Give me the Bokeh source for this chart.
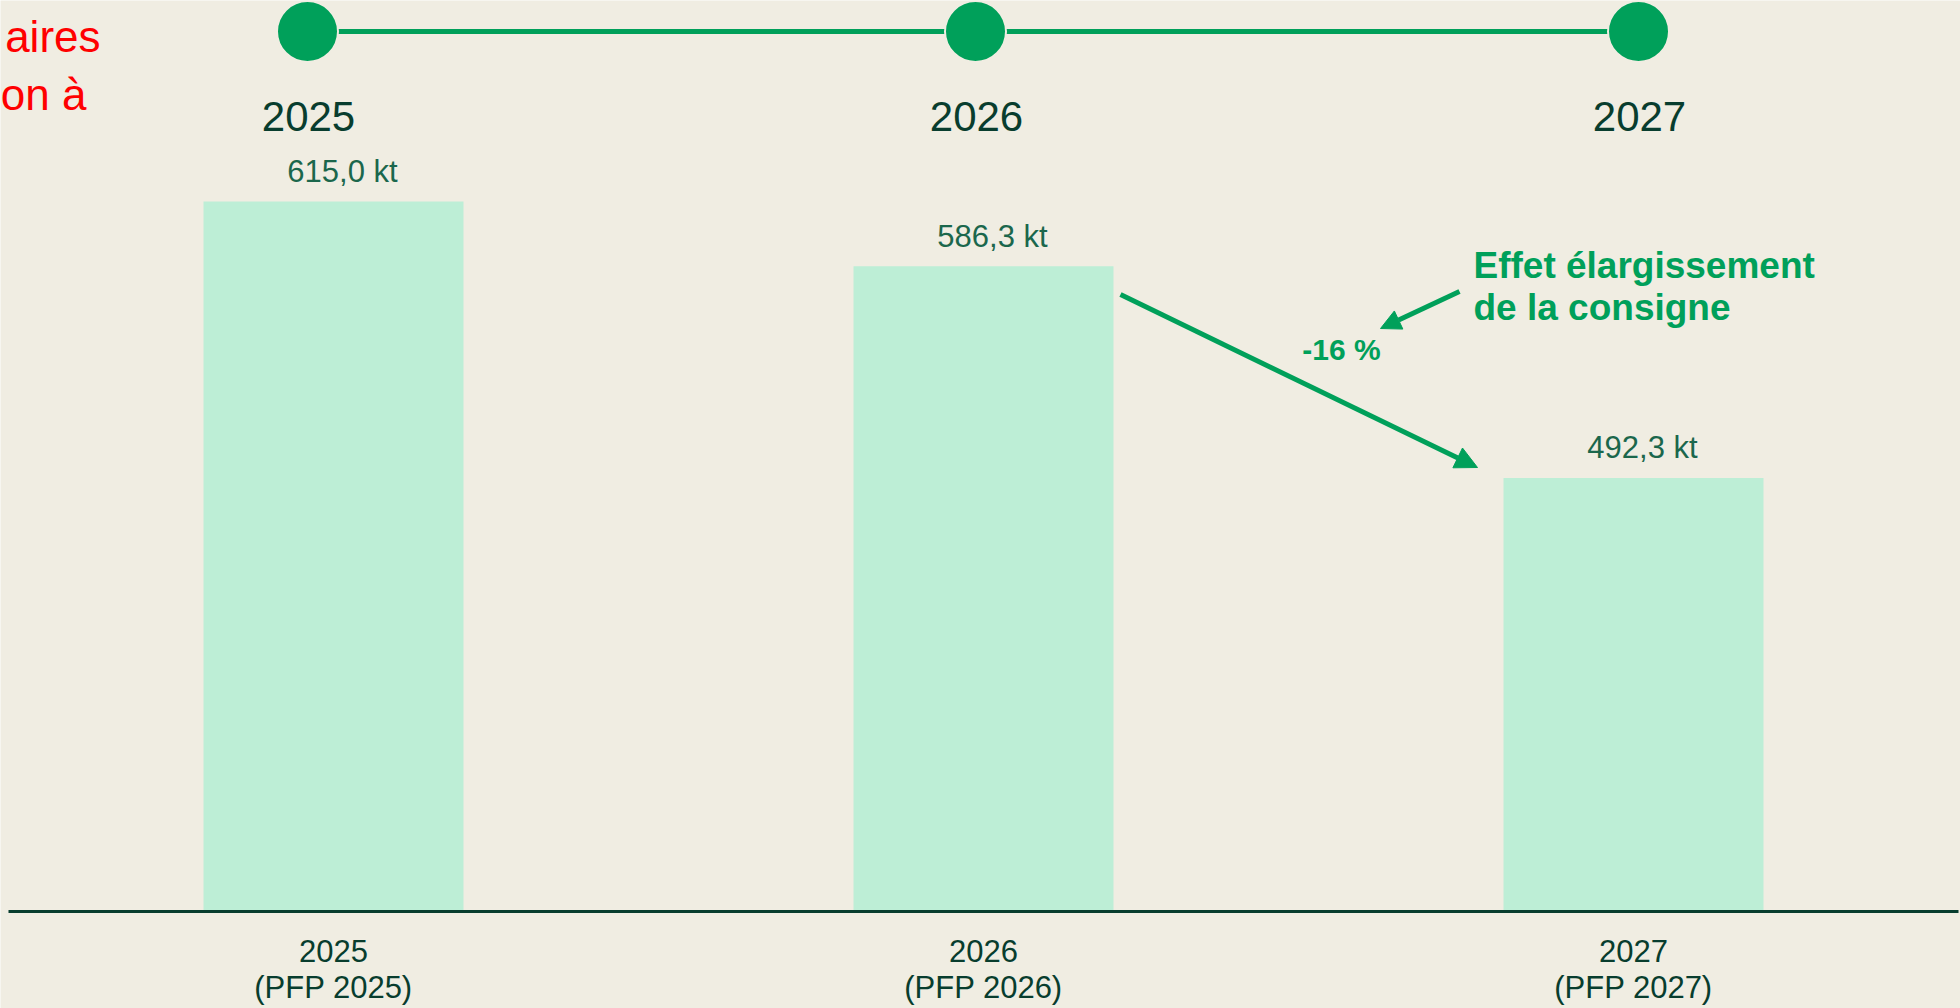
from bokeh.plotting import figure
from bokeh.models import Range1d, Arrow, NormalHead
from bokeh.core.properties import value
from bokeh.embed import file_html
from bokeh.resources import INLINE

# ---------------- data ----------------
years = ["2025", "2026", "2027"]
sublabels = ["(PFP 2025)", "(PFP 2026)", "(PFP 2027)"]
values = [615.0, 586.3, 492.3]
value_labels = ["615,0 kt", "586,3 kt", "492,3 kt"]
change_label = "-16 %"
note_lines = ["Effet élargissement", "de la consigne"]
cut_text = ["aires", "on à"]

# ---------------- layout / style ----------------
W, H = 1960, 1008
BG = "#f0ede2"
BAR = "#bdeed6"
GREEN = "#00a05a"
DARK = "#083d2e"
LABEL = "#1b674c"
FONT = "Liberation Sans"

Y_BASE = 300.0          # value where the bars start
BASE_PX = 911           # baseline, pixels from top
PX_PER_UNIT = 2.254     # pixels per kt
BAR_C0_PX = 333         # first bar centre, pixels
BAR_STEP_PX = 650       # distance between bars, pixels
BAR_W = 0.4


def sh(fs):
    # correction so that the text baseline lands where intended
    return 0.36 * fs


idx = list(range(len(years)))

x0 = -BAR_C0_PX / BAR_STEP_PX
x1 = (W - BAR_C0_PX) / BAR_STEP_PX
y0 = Y_BASE - (H - BASE_PX) / PX_PER_UNIT
y1 = Y_BASE + BASE_PX / PX_PER_UNIT

p = figure(width=W, height=H, x_range=Range1d(x0, x1), y_range=Range1d(y0, y1),
           x_axis_location=None, y_axis_location=None, toolbar_location=None,
           output_backend="svg", min_border=0)
p.extra_x_ranges = {"px": Range1d(0, W)}
p.extra_y_ranges = {"px": Range1d(H, 0)}
p.background_fill_color = BG
p.border_fill_color = BG
p.outline_line_color = None
p.grid.visible = False

# bars
p.vbar(x=idx, top=values, bottom=Y_BASE, width=BAR_W, fill_color=BAR, line_color=None)

# baseline
p.segment(x0=[8], x1=[1958], y0=[Y_BASE], y1=[Y_BASE], x_range_name="px",
          line_color=DARK, line_width=3)

# value labels
p.text(x=idx, y=values, text=value_labels, x_offset=9, y_offset=-19 - sh(31),
       text_align="center", text_baseline="alphabetic",
       text_font=value(FONT), text_font_size="31px", text_color=LABEL)

# category labels
p.text(x=idx, y=[Y_BASE] * 3, text=years, y_offset=51 - sh(31),
       text_align="center", text_baseline="alphabetic",
       text_font=value(FONT), text_font_size="31px", text_color=DARK)
p.text(x=idx, y=[Y_BASE] * 3, text=sublabels, y_offset=87 - sh(31),
       text_align="center", text_baseline="alphabetic",
       text_font=value(FONT), text_font_size="31px", text_color=DARK)

# timeline on top
tl_x = [307, 975, 1638]
tl_y = 31
p.line(x=tl_x, y=[tl_y] * 3, x_range_name="px", y_range_name="px",
       line_color=GREEN, line_width=5)
p.scatter(x=tl_x, y=[tl_y] * 3, x_range_name="px", y_range_name="px",
          size=61, fill_color=GREEN, line_color=BG, line_width=2)
p.text(x=[v + 1 for v in tl_x], y=[131 - sh(42)] * 3, text=years, x_range_name="px", y_range_name="px",
       text_align="center", text_baseline="alphabetic",
       text_font=value(FONT), text_font_size="42px", text_color=DARK)

# arrow from bar 2 to bar 3
p.add_layout(Arrow(x_start=1120, y_start=294, x_end=1477, y_end=467,
                   x_range_name="px", y_range_name="px",
                   line_color=GREEN, line_width=5,
                   end=NormalHead(size=22, fill_color=GREEN, line_color=GREEN, line_width=1)))
p.add_layout(Arrow(x_start=1459, y_start=291, x_end=1380, y_end=328,
                   x_range_name="px", y_range_name="px",
                   line_color=GREEN, line_width=5,
                   end=NormalHead(size=20, fill_color=GREEN, line_color=GREEN, line_width=1)))

p.text(x=[1341], y=[360 - sh(30)], text=[change_label], x_range_name="px", y_range_name="px",
       text_align="center", text_baseline="alphabetic", text_font_style="bold",
       text_font=value(FONT), text_font_size="30px", text_color=GREEN)
p.text(x=[1473, 1473], y=[278 - sh(37), 320 - sh(37)], text=note_lines,
       x_range_name="px", y_range_name="px",
       text_align="left", text_baseline="alphabetic", text_font_style="bold",
       text_font=value(FONT), text_font_size="37px", text_color=GREEN)

# cut-off red text at top-left
p.text(x=[100, 86], y=[52 - sh(44), 110 - sh(44)], text=cut_text, x_range_name="px", y_range_name="px",
       text_align="right", text_baseline="alphabetic",
       text_font=value(FONT), text_font_size="44px", text_color="#ff0000")

open("out.html", "w").write(file_html(p, INLINE))
